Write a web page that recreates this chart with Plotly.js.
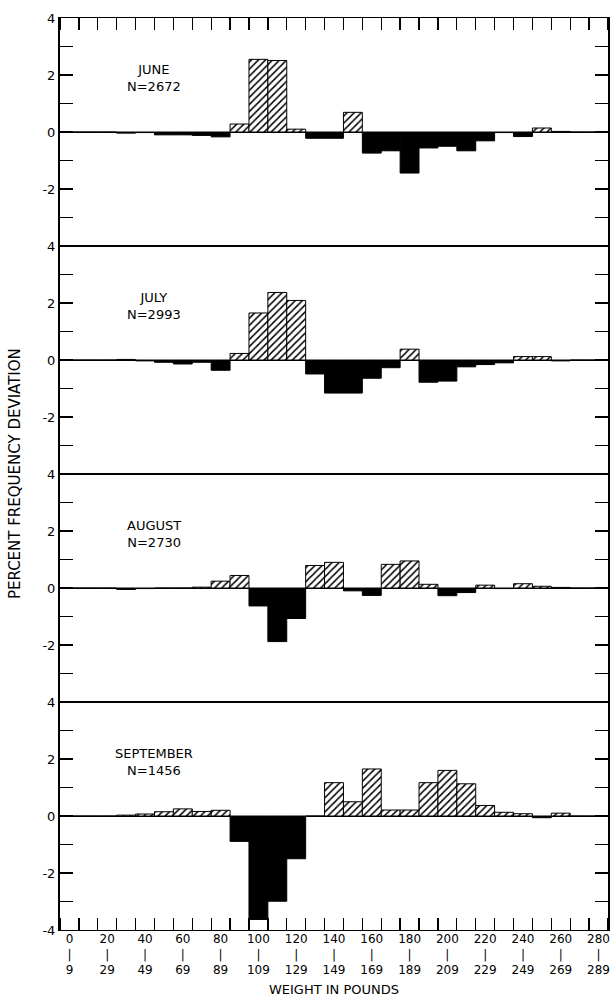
<!DOCTYPE html>
<html>
<head>
<meta charset="utf-8">
<script src="https://cdn.plot.ly/plotly-3.0.1.min.js"></script>
<style>html,body{margin:0;padding:0;background:#fff;}</style>
</head>
<body>
<div id="chart" style="width:611px;height:1002px;"></div>
<script>
// Weight classes (lower bound, pounds), 10-lb bins
const binLow = [0,10,20,30,40,50,60,70,80,90,100,110,120,130,140,150,160,170,180,190,200,210,220,230,240,250,260,270,280];
const binWidth = 10;

// Percent frequency deviation per weight class
const june      = [0,0,0,-0.04,-0.02,-0.1,-0.1,-0.12,-0.17,0.28,2.55,2.51,0.1,-0.22,-0.22,0.69,-0.74,-0.66,-1.44,-0.56,-0.5,-0.66,-0.31,-0.02,-0.16,0.14,0.02,0,0];
const july      = [0,0,0,0.02,-0.03,-0.08,-0.14,-0.08,-0.36,0.23,1.65,2.37,2.09,-0.49,-1.16,-1.16,-0.64,-0.27,0.38,-0.78,-0.74,-0.24,-0.16,-0.1,0.12,0.12,-0.03,0,0];
const august    = [0,0,0,-0.05,-0.02,0,0,0.03,0.24,0.44,-0.63,-1.88,-1.07,0.79,0.9,-0.1,-0.26,0.83,0.95,0.13,-0.27,-0.16,0.1,-0.02,0.15,0.06,0.02,0,0];
const september = [0,0,0,0.03,0.07,0.15,0.25,0.16,0.2,-0.89,-3.63,-2.99,-1.5,0,1.17,0.5,1.65,0.21,0.21,1.17,1.6,1.13,0.37,0.13,0.08,-0.06,0.1,0,0];

const months  = ["JUNE","JULY","AUGUST","SEPTEMBER"];
const counts  = [2672,2993,2730,1456];
const series  = [june, july, august, september];

// x-axis tick labels
const tickLow  = [0,20,40,60,80,100,120,140,160,180,200,220,240,260,280];
const tickHigh = [9,29,49,69,89,109,129,149,169,189,209,229,249,269,289];

const FONT = "DejaVu Sans, Liberation Sans, Arial, sans-serif";
const traces = [];
const layout = {
  width: 611, height: 1002,
  margin: {l: 60, r: 3, t: 18, b: 72},
  showlegend: false,
  bargap: 0,
  barmode: "overlay",
  annotations: []
};

const xCenters = binLow.map(b => b + binWidth / 2);
const tenTicks = binLow.concat([290]);
const YMAX = 4, TICK_LEN = 0.42; // tick length in y units (about 12 px)

series.forEach((vals, i) => {
  const xa = i === 0 ? "x" : "x" + (i + 1);
  const ya = i === 0 ? "y" : "y" + (i + 1);
  const xk = i === 0 ? "xaxis" : "xaxis" + (i + 1);
  const yk = i === 0 ? "yaxis" : "yaxis" + (i + 1);
  const last = i === series.length - 1;
  // positive deviations: hatched
  traces.push({
    type: "bar",
    x: xCenters,
    y: vals.map(v => v > 0 ? v : null),
    width: binWidth,
    xaxis: xa, yaxis: ya,
    hoverinfo: "skip",
    marker: {
      color: "white",
      line: {color: "black", width: 1},
      pattern: {shape: "/", fgcolor: "black", bgcolor: "white", fillmode: "replace", size: 5, solidity: 0.3}
    }
  });
  // negative deviations: solid black
  traces.push({
    type: "bar",
    x: xCenters,
    y: vals.map(v => v <= 0 ? v : null),
    width: binWidth,
    xaxis: xa, yaxis: ya,
    hoverinfo: "skip",
    marker: {color: "black", line: {color: "black", width: 1}}
  });
  // 10-lb tick comb: along the top of the first panel, along the bottom of the last
  if (i === 0 || last) {
    traces.push({
      type: "bar",
      x: tenTicks,
      y: tenTicks.map(() => TICK_LEN),
      base: i === 0 ? YMAX - TICK_LEN : -YMAX,
      width: 0.7,
      xaxis: xa, yaxis: ya,
      hoverinfo: "skip",
      marker: {color: "black", line: {width: 0}}
    });
  }
  const yv = last ? [-4,-2,0,2,4] : [-2,0,2,4];
  layout[yk] = {
    domain: [(3 - i) * 0.25, (4 - i) * 0.25],
    anchor: xa,
    range: [-YMAX, YMAX],
    tickmode: "array",
    tickvals: yv,
    ticktext: yv.map(v => String(v)),
    ticks: "inside", ticklen: 13, tickwidth: 1.2, tickcolor: "black",
    minor: {ticks: "inside", tickmode: "linear", tick0: 0, dtick: 1, ticklen: 13, tickwidth: 1.2, tickcolor: "black"},
    showline: true, linewidth: 2, linecolor: "black", mirror: "ticks",
    showgrid: false,
    zeroline: true, zerolinecolor: "black", zerolinewidth: 1,
    tickfont: {family: FONT, size: 13, color: "black"}
  };
  const xax = {
    domain: [0, 1],
    anchor: ya,
    range: [0, 290],
    showline: true, linewidth: 1.2, linecolor: "black", mirror: true,
    showgrid: false, zeroline: false,
    showticklabels: false
  };
  if (i === 0 || last) {
    Object.assign(xax, {side: i === 0 ? "top" : "bottom", tickmode: "array", tickvals: tenTicks,
      ticks: "inside", ticklen: 12, tickwidth: 1.2, tickcolor: "black"});
  } else {
    xax.ticks = "";
  }
  layout[xk] = xax;
  layout.annotations.push({
    xref: xa, yref: ya,
    x: 50, y: 1.9,
    text: months[i] + "<br>N=" + counts[i],
    showarrow: false,
    xanchor: "center", yanchor: "middle",
    align: "center",
    font: {family: FONT, size: 13, color: "black"}
  });
});

// label axis for the bottom panel (weight-class labels)
layout.xaxis5 = {
  overlaying: "x4",
  anchor: "y4",
  side: "bottom",
  range: [0, 290],
  tickmode: "array",
  tickvals: tickLow.map(t => t + binWidth / 2),
  ticktext: tickLow.map((t, k) => t + "<br>|<br>" + tickHigh[k]),
  ticks: "",
  showline: false, showgrid: false, zeroline: false,
  tickfont: {family: FONT, size: 12, color: "black"},
  title: {text: "WEIGHT IN POUNDS", font: {family: FONT, size: 13, color: "black"}, standoff: 8}
};
traces.push({type: "scatter", mode: "markers", x: [], y: [], xaxis: "x5", yaxis: "y4", hoverinfo: "skip", showlegend: false});

layout.annotations.push({
  xref: "paper", yref: "paper",
  x: -0.082, y: 0.5,
  text: "PERCENT FREQUENCY DEVIATION",
  textangle: -90,
  showarrow: false,
  xanchor: "center", yanchor: "middle",
  font: {family: FONT, size: 15, color: "black"}
});

Plotly.newPlot("chart", traces, layout, {staticPlot: true, displayModeBar: false});
</script>
</body>
</html>
